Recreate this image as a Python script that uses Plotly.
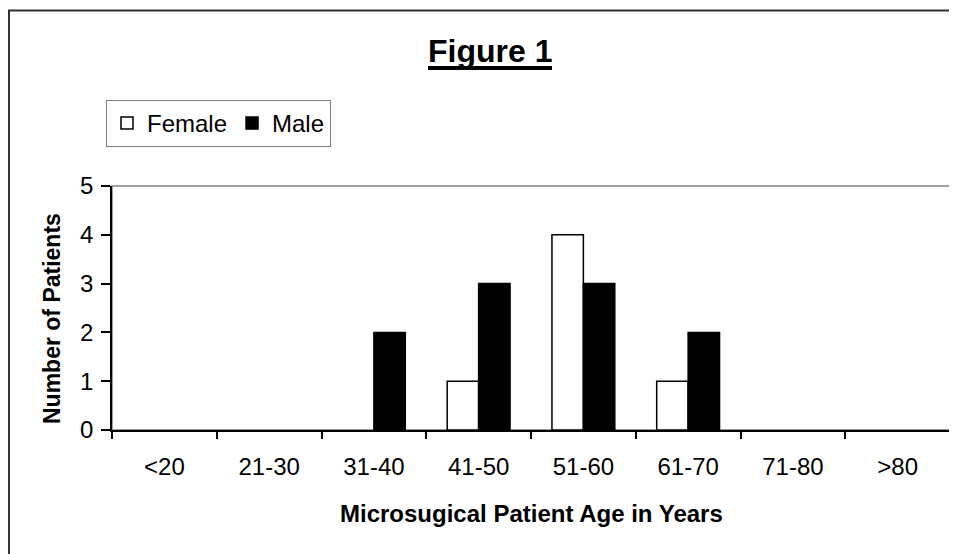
import plotly.graph_objects as go

categories = ["<20", "21-30", "31-40", "41-50", "51-60", "61-70", "71-80", ">80"]
female = [0, 0, 0, 1, 4, 1, 0, 0]
male = [0, 0, 2, 3, 3, 2, 0, 0]
y_ticks = [0, 1, 2, 3, 4, 5]

FONT = "Liberation Sans, Arial, sans-serif"
OFF = 8  # page body margin
W, H = 957 - OFF, 554 - OFF
L, R, T, B = 104, 7, 178, 124
PW, PH = W - L - R, H - T - B


def px(xp):
    return (xp - OFF - L) / PW


def py(yp):
    return (H - B - (yp - OFF)) / PH


def nz(vals):
    # zero-height bars are not drawn (avoids outline on the axis)
    return [v if v else None for v in vals]


fig = go.Figure()
fig.add_trace(go.Bar(
    x=categories, y=nz(female), name="Female",
    marker=dict(color="white", line=dict(color="black", width=1.5)),
))
fig.add_trace(go.Bar(
    x=categories, y=nz(male), name="Male",
    marker=dict(color="black", line=dict(color="black", width=1.5)),
))

fig.update_layout(
    width=W, height=H,
    margin=dict(l=L, r=R, t=T, b=B, pad=0),
    paper_bgcolor="white", plot_bgcolor="white",
    barmode="group", bargap=0.4, bargroupgap=0,
    font=dict(family=FONT, size=24, color="black"),
    showlegend=True,
    legend=dict(
        orientation="h", x=px(106), y=py(100), xanchor="left", yanchor="top",
        bordercolor="#808080", borderwidth=1, bgcolor="white",
        font=dict(family=FONT, size=24, color="black"),
        itemwidth=30, traceorder="normal",
    ),
    xaxis=dict(
        type="category", categoryorder="array", categoryarray=categories,
        range=[-0.5, len(categories) - 0.5],
        showline=True, linecolor="black", linewidth=1.5,
        ticks="outside", tickson="boundaries", ticklen=7, tickcolor="black", tickwidth=1.5,
        tickfont=dict(family=FONT, size=24, color="black"),
        ticklabelstandoff=14,
        showgrid=False, zeroline=False,
    ),
    yaxis=dict(
        range=[0, 5], tickvals=y_ticks, ticktext=[str(v) for v in y_ticks],
        showline=True, linecolor="black", linewidth=1.5,
        ticks="outside", ticklen=9, tickcolor="black", tickwidth=1.5,
        tickfont=dict(family=FONT, size=24, color="black"),
        ticklabelstandoff=3,
        showgrid=False, zeroline=False,
    ),
    shapes=[
        dict(type="rect", xref="paper", yref="paper", x0=0, x1=1, y0=0, y1=1,
             line=dict(color="#808080", width=1.5), layer="below"),
        dict(type="rect", xref="paper", yref="paper",
             x0=px(9), x1=px(990), y0=py(600), y1=py(10.5),
             line=dict(color="#333333", width=2), layer="above"),
        dict(type="line", xref="paper", yref="paper",
             x0=px(428), x1=px(552), y0=py(68), y1=py(68),
             line=dict(color="black", width=4), layer="above"),
    ],
    annotations=[
        dict(text="<b>Figure 1</b>", x=px(490), y=py(51), xref="paper", yref="paper",
             xanchor="center", yanchor="middle", showarrow=False,
             font=dict(family=FONT, size=32, color="black")),
        dict(text="<b>Microsugical Patient Age in Years</b>", x=px(531.5), y=py(513),
             xref="paper", yref="paper", xanchor="center", yanchor="middle", showarrow=False,
             font=dict(family=FONT, size=24, color="black")),
        dict(text="<b>Number of Patients</b>", x=px(52), y=py(319), textangle=-90,
             xref="paper", yref="paper", xanchor="center", yanchor="middle", showarrow=False,
             font=dict(family=FONT, size=23, color="black")),
    ],
)

fig.write_html("out.html")
